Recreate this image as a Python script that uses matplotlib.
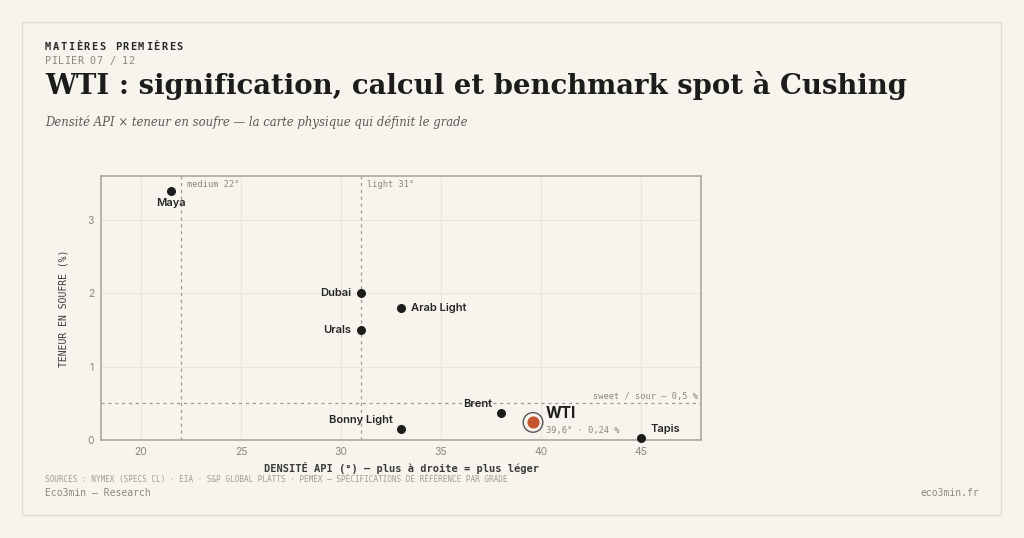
import numpy as np
import matplotlib
matplotlib.use('Agg')
import matplotlib.pyplot as plt
from matplotlib.patches import Rectangle

# grades: API gravity (deg) vs sulphur (%)
grades = ['Maya', 'Dubai', 'Arab Light', 'Urals', 'Bonny Light', 'Brent', 'Tapis']
api = [21.5, 31.0, 33.0, 31.0, 33.0, 38.0, 45.0]
sulfur = [3.4, 2.0, 1.8, 1.5, 0.15, 0.37, 0.03]
wti_api = 39.6
wti_sulfur = 0.24
xticks = [20, 25, 30, 35, 40, 45]
yticks = [0, 1, 2, 3]

BG = '#f7f4ed'
INK = '#1c1c1c'
GREY = '#8a8780'
MONO = 'DejaVu Sans Mono'
SERIF = 'DejaVu Serif'
SANS = 'Inter'

fig = plt.figure(figsize=(10.24, 5.38), dpi=100, facecolor=BG)
W, H = 1024, 538

def px(x, y):
    return x / W, 1 - y / H

# card
fig.patches.append(Rectangle(px(22, 515), 979 / W, 493 / H, transform=fig.transFigure,
                             facecolor=BG, edgecolor='#e0dccf', lw=1.0, zorder=-5))

def spaced(x, y, s, step, **kw):
    for i, c in enumerate(s):
        fig.text(*px(x + i * step, y), c, va='center', ha='left', **kw)

spaced(45, 47, 'MATIÈRES PREMIÈRES', 7.75, fontsize=7.5, family=MONO, weight='bold', color='#2a2a2a')
spaced(45, 61, 'PILIER 07 / 12', 6.4, fontsize=7.3, family=MONO, color=GREY)
fig.text(*px(45, 86), 'WTI : signification, calcul et benchmark spot à Cushing',
         fontsize=19.8, family=SERIF, weight='bold', color=INK, va='center')
fig.text(*px(45, 122), 'Densité API × teneur en soufre — la carte physique qui définit le grade',
         fontsize=8.4, family=SERIF, style='italic', color='#5c5a55', va='center')

ax = fig.add_axes([101 / W, 1 - 440 / H, 600 / W, 264 / H])
ax.set_facecolor(BG)
ax.set_xlim(18, 48)
ax.set_ylim(0, 3.6)
ax.set_xticks(xticks)
ax.set_yticks(yticks)
ax.grid(True, color='#e9e5dc', lw=0.8)
ax.set_axisbelow(True)
ax.tick_params(length=0, labelsize=7.5, labelcolor=GREY, pad=5)
for lab in ax.get_xticklabels() + ax.get_yticklabels():
    lab.set_family(SANS)
for s in ax.spines.values():
    s.set_color('#a5a29b')
    s.set_linewidth(1.1)

# thresholds
ax.axvline(22, color='#9d9a92', ls=(0, (2.5, 3)), lw=0.9)
ax.axvline(31, color='#9d9a92', ls=(0, (2.5, 3)), lw=0.9)
ax.axhline(0.5, color='#9d9a92', ls=(0, (2.5, 3)), lw=0.9)
ax.text(22.3, 3.48, 'medium 22°', fontsize=6.2, family=MONO, color=GREY, va='center')
ax.text(31.3, 3.48, 'light 31°', fontsize=6.2, family=MONO, color=GREY, va='center')
ax.text(47.85, 0.59, 'sweet / sour — 0,5 %', fontsize=6.2, family=MONO, color=GREY, ha='right', va='center')

ax.scatter(api, sulfur, s=30, color=INK, zorder=4, clip_on=False)

offsets = {
    'Maya': (0, -9, 'center', 'center'),
    'Dubai': (-7, 0, 'right', 'center'),
    'Arab Light': (7, 0, 'left', 'center'),
    'Urals': (-7, 0, 'right', 'center'),
    'Bonny Light': (-6, 6.5, 'right', 'center'),
    'Brent': (-6, 6.5, 'right', 'center'),
    'Tapis': (6.5, 6, 'left', 'center'),
}
for g, x, y in zip(grades, api, sulfur):
    dx, dy, ha, va = offsets[g]
    ax.annotate(g, (x, y), xytext=(dx, dy), textcoords='offset points', ha=ha, va=va,
                fontsize=8, family=SANS, weight='semibold', color='#262626')

ax.scatter([wti_api], [wti_sulfur], s=200, facecolor='none', edgecolor='#555', lw=1.0, zorder=5)
ax.scatter([wti_api], [wti_sulfur], s=60, color='#c4552f', zorder=6)
ax.annotate('WTI', (wti_api, wti_sulfur), xytext=(9, 6.5), textcoords='offset points',
            fontsize=11, family=SANS, weight='bold', color=INK, va='center')
ax.annotate('39,6° · 0,24 %', (wti_api, wti_sulfur), xytext=(9, -5.5), textcoords='offset points',
            fontsize=6.3, family=MONO, color=GREY, va='center')

ax.set_xlabel('DENSITÉ API (°) — plus à droite = plus léger', family=MONO, fontsize=7.5,
              weight='bold', color='#3a3a3a', labelpad=4)
ax.set_ylabel('TENEUR EN SOUFRE (%)', family=MONO, fontsize=7, color='#3a3a3a', labelpad=14)

fig.text(*px(45, 479), 'SOURCES : NYMEX (SPECS CL) · EIA · S&P GLOBAL PLATTS · PEMEX — SPÉCIFICATIONS DE RÉFÉRENCE PAR GRADE',
         fontsize=5.6, family=MONO, color='#a09d96', va='center')
fig.text(*px(45, 493), 'Eco3min — Research', fontsize=7, family=MONO, color=GREY, va='center')
fig.text(*px(979, 493), 'eco3min.fr', fontsize=7, family=MONO, color=GREY, va='center', ha='right')

fig.savefig('out.png', dpi=100, facecolor=BG)
